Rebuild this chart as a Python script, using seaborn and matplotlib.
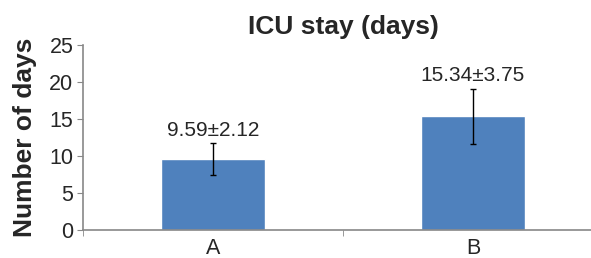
import numpy as np
import pandas as pd
import matplotlib
matplotlib.use("Agg")
import matplotlib.pyplot as plt
import seaborn as sns

# data
groups = ["A", "B"]
means = [9.59, 15.34]
sds = [2.12, 3.75]
value_labels = ["9.59±2.12", "15.34±3.75"]
y_ticks = [0, 5, 10, 15, 20, 25]

df = pd.DataFrame({"group": groups, "days": means})

sns.set_style("white")
plt.rcParams["font.family"] = ["Liberation Sans", "DejaVu Sans"]

fig = plt.figure(figsize=(5.91, 2.58), dpi=100)
ax = fig.add_axes([83 / 591, 1 - 230 / 258, 520 / 591, 185 / 258])

sns.barplot(data=df, x="group", y="days", color="#4F81BD", saturation=1,
            width=0.4, errorbar=None, ax=ax)
ax.errorbar(np.arange(len(groups)), means, yerr=sds, fmt="none",
            ecolor="black", elinewidth=1, capsize=2.5, capthick=1)

for i, (m, s, lab) in enumerate(zip(means, sds, value_labels)):
    ax.text(i, m + s + 0.5, lab, ha="center", va="bottom", fontsize=15)

ax.set_xlim(-0.5, 1.5)
ax.set_ylim(0, 25)
ax.set_yticks(y_ticks)
ax.set_xlabel("")
ax.set_ylabel("Number of days", fontsize=19, fontweight="bold", labelpad=9)
ax.set_title("ICU stay (days)", fontsize=19, fontweight="bold", pad=8)

# axis styling like the office-chart look
for side in ["top", "right"]:
    ax.spines[side].set_visible(False)
for side in ["left", "bottom"]:
    ax.spines[side].set_color("#888888")
    ax.spines[side].set_linewidth(1.2)

ax.tick_params(axis="y", which="major", length=4, color="#888888",
               labelsize=15.5, pad=3, left=True)
ax.tick_params(axis="x", which="major", length=0, labelsize=15.5, pad=6)
ax.set_xticks([-0.5, 0.5, 1.5], minor=True)
ax.tick_params(axis="x", which="minor", length=4, color="#888888", bottom=True)

fig.savefig("out.png", dpi=100)
